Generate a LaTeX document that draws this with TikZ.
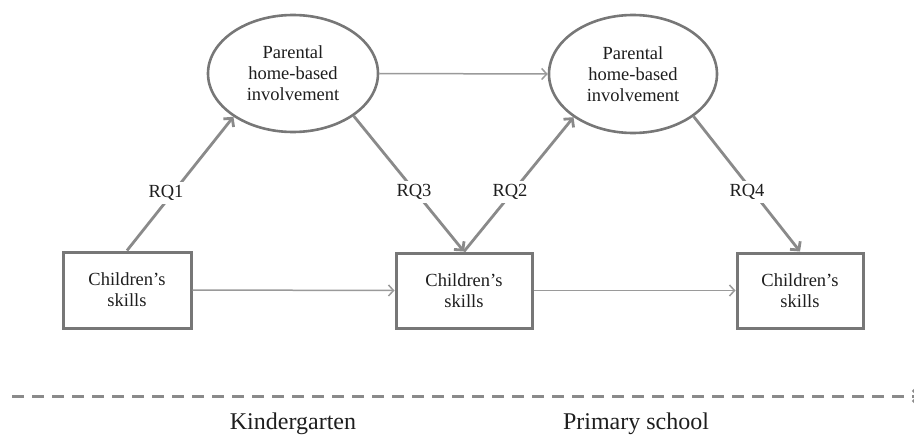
\documentclass[tikz,border=0pt]{standalone}
\usepackage{fontspec}
\setmainfont{Liberation Serif}
\usetikzlibrary{arrows.meta,shapes.geometric}

\definecolor{bordergray}{HTML}{777777}
\definecolor{pathgray}{HTML}{8A8A8A}
\definecolor{flowgray}{HTML}{9A9A9A}
\definecolor{inkgray}{HTML}{1E1E1E}

\tikzset{
  txt/.style={text=inkgray, font=\fontsize{18.5}{21}\selectfont, align=center},
  construct/.style={txt, ellipse, draw=bordergray, line width=2.6pt, inner sep=0pt},
  skillbox/.style={txt, rectangle, draw=bordergray, line width=3pt, inner sep=0pt},
  rqpath/.style={draw=pathgray, line width=2.8pt, -{Straight Barb[length=6pt,width=13pt]}},
  flow/.style={draw=flowgray, line width=1.5pt, -{Straight Barb[length=5pt,width=11pt]}},
  rqlabel/.style={txt, fill=white, inner sep=3pt},
  phase/.style={text=inkgray, font=\fontsize{24}{28}\selectfont},
}

\begin{document}
\begin{tikzpicture}[x=1pt,y=-1pt]
\useasboundingbox (0,0) rectangle (914,439);

% latent constructs
\node[construct, minimum width=170pt, minimum height=117pt] (ell1) at (293,73.5)
  {Parental\\home-based\\involvement};
\node[construct, minimum width=168pt, minimum height=118pt] (ell2) at (633,74)
  {Parental\\home-based\\involvement};

% observed skills
\node[skillbox, minimum width=128pt, minimum height=76pt] (box1) at (127,290) {Children's\\skills};
\node[skillbox, minimum width=136pt, minimum height=75pt] (box2) at (464,290.5) {Children's\\skills};
\node[skillbox, minimum width=126pt, minimum height=75pt] (box3) at (800,290.5) {Children's\\skills};

% autoregressive paths
\draw[flow] (ell1.east) -- (ell2.west);
\draw[flow] (box1.east) -- (box2.west);
\draw[flow] (box2.east) -- (box3.west);

% cross-lagged research paths
\draw[rqpath] (box1.north) -- (ell1.216);
\draw[rqpath] (ell1.325) -- (box2.north);
\draw[rqpath] (box2.north) -- (ell2.216);
\draw[rqpath] (ell2.325) -- (box3.north);

\node[rqlabel] (rq1) at (166,193) {RQ1};
\node[rqlabel] (rq3) at (414,192) {RQ3};
\node[rqlabel] (rq2) at (510,192) {RQ2};
\node[rqlabel] (rq4) at (747,192) {RQ4};

% time axis
\coordinate (axstart) at (12,396);
\coordinate (axend) at (921,396);
\draw[draw=pathgray, line width=3pt, dash pattern=on 12pt off 8pt,
  -{Straight Barb[length=6pt,width=12pt]}] (axstart) -- (axend);

\node[phase] (kg) at (293,424) {Kindergarten};
\node[phase] (ps) at (636,424) {Primary school};
\end{tikzpicture}
\end{document}
